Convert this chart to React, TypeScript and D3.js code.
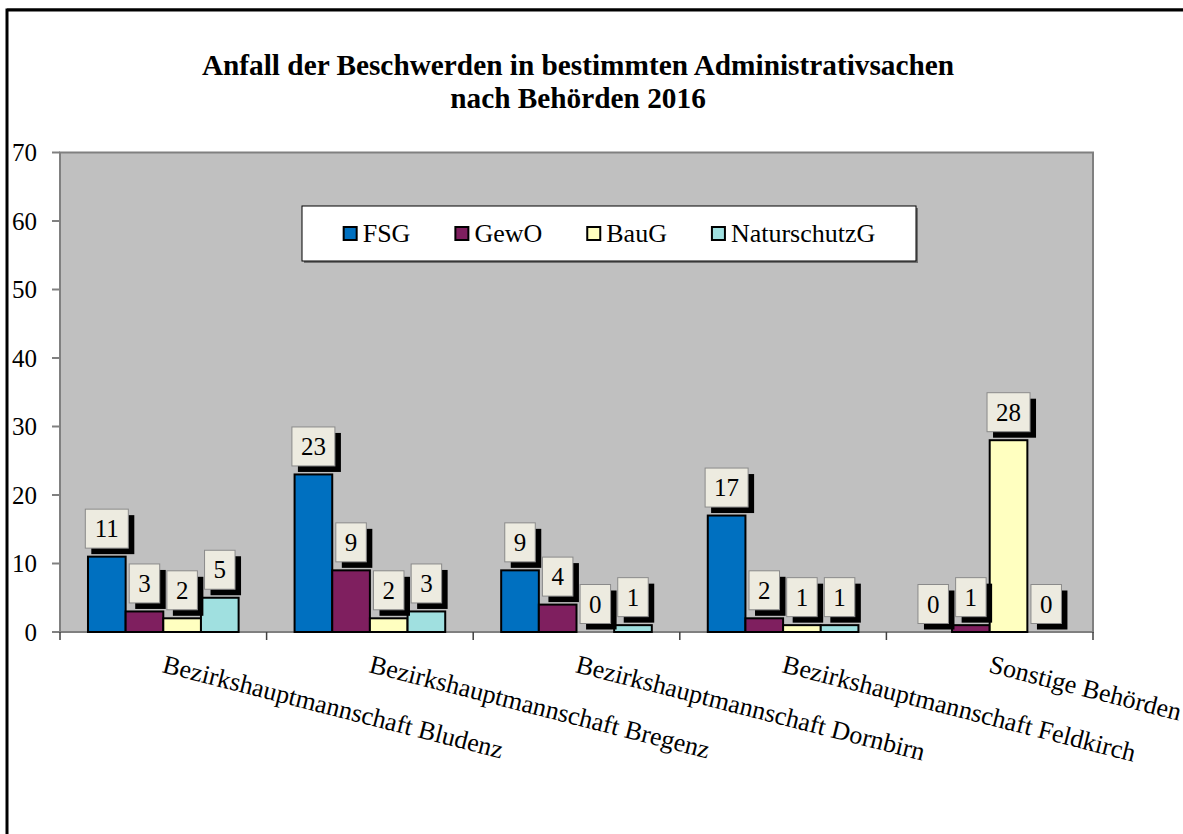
import React, { useEffect, useRef } from 'react';
import * as d3 from 'd3';

const categories = [
  'Bezirkshauptmannschaft Bludenz',
  'Bezirkshauptmannschaft Bregenz',
  'Bezirkshauptmannschaft Dornbirn',
  'Bezirkshauptmannschaft Feldkirch',
  'Sonstige Behörden',
];
const seriesNames = ['FSG', 'GewO', 'BauG', 'NaturschutzG'];
const fsgValues = [11, 23, 9, 17, 0];
const gewoValues = [3, 9, 4, 2, 1];
const baugValues = [2, 2, 0, 1, 28];
const naturValues = [5, 3, 1, 1, 0];
const seriesColors = ['#0070C0', '#7F1F5F', '#FFFFC0', '#A0E0E0'];
const yTicks = [0, 10, 20, 30, 40, 50, 60, 70];
const titleLines = ['Anfall der Beschwerden in bestimmten Administrativsachen', 'nach Behörden 2016'];

const seriesValues = [fsgValues, gewoValues, baugValues, naturValues];
const FONT = '"Liberation Serif", "Times New Roman", serif';

export default function App() {
  const ref = useRef<SVGSVGElement | null>(null);

  useEffect(() => {
    const svg = d3.select(ref.current);
    svg.selectAll('*').remove();

    const W = 1183, H = 834;
    const plot = { left: 60, top: 152.5, right: 1093, bottom: 632 };

    svg.append('rect').attr('width', W).attr('height', H).attr('fill', '#fff');

    // outer chart border (extends past viewport right/bottom)
    svg.append('line').attr('x1', 7).attr('x2', W).attr('y1', 8.5).attr('y2', 8.5)
      .attr('stroke', '#808080').attr('stroke-width', 1);
    svg.append('rect').attr('x', 7).attr('y', 10).attr('width', W + 50).attr('height', H + 50)
      .attr('fill', 'none').attr('stroke', '#000').attr('stroke-width', 3);

    // title
    titleLines.forEach((t, i) => {
      svg.append('text').attr('x', 578).attr('y', 75 + i * 33)
        .attr('text-anchor', 'middle').attr('font-family', FONT)
        .attr('font-weight', 'bold').attr('font-size', 29.3).attr('fill', '#000').text(t);
    });

    const y = d3.scaleLinear().domain([0, 70]).range([plot.bottom, plot.top]);
    const x0 = d3.scaleBand<string>().domain(categories).range([plot.left, plot.right]).paddingInner(0).paddingOuter(0);
    const x1 = d3.scaleBand<string>().domain(seriesNames).range([0, x0.bandwidth()]).paddingInner(0).paddingOuter(0.743);

    // plot area
    svg.append('rect').attr('x', plot.left).attr('y', plot.top)
      .attr('width', plot.right - plot.left).attr('height', plot.bottom - plot.top)
      .attr('fill', '#C0C0C0').attr('stroke', '#808080').attr('stroke-width', 2);

    // y axis ticks + labels
    yTicks.forEach((t) => {
      svg.append('line').attr('x1', 52).attr('x2', plot.left).attr('y1', y(t)).attr('y2', y(t))
        .attr('stroke', '#808080').attr('stroke-width', 2);
      svg.append('text').attr('x', 37).attr('y', y(t) + 8.5).attr('text-anchor', 'end')
        .attr('font-family', FONT).attr('font-size', 25).attr('fill', '#000').text(String(t));
    });

    // x axis
    svg.append('line').attr('x1', plot.left).attr('x2', plot.right).attr('y1', plot.bottom).attr('y2', plot.bottom)
      .attr('stroke', '#808080').attr('stroke-width', 2);
    const boundaries = categories.map((c) => x0(c) as number).concat([plot.right]);
    boundaries.forEach((bx) => {
      svg.append('line').attr('x1', bx).attr('x2', bx).attr('y1', plot.bottom).attr('y2', plot.bottom + 8)
        .attr('stroke', '#404040').attr('stroke-width', 1.5);
    });

    // bars
    categories.forEach((c, ci) => {
      seriesNames.forEach((s, si) => {
        const v = seriesValues[si][ci];
        if (v <= 0) return;
        const bx = (x0(c) as number) + (x1(s) as number);
        svg.append('rect').attr('x', bx).attr('y', y(v)).attr('width', x1.bandwidth())
          .attr('height', y(0) - y(v)).attr('fill', seriesColors[si])
          .attr('stroke', '#000').attr('stroke-width', 2);
      });
    });

    // data labels
    categories.forEach((c, ci) => {
      seriesNames.forEach((s, si) => {
        const v = seriesValues[si][ci];
        const cx = (x0(c) as number) + (x1(s) as number) + x1.bandwidth() / 2;
        const label = String(v);
        const bw = label.length * 12.5 + 18;
        const bh = 39;
        const bottom = y(v) - 8.5;
        const g = svg.append('g');
        g.append('rect').attr('x', cx - bw / 2 + 6).attr('y', bottom - bh + 6)
          .attr('width', bw).attr('height', bh).attr('fill', '#000');
        g.append('rect').attr('x', cx - bw / 2).attr('y', bottom - bh)
          .attr('width', bw).attr('height', bh).attr('fill', '#EDEBE0')
          .attr('stroke', '#8A8A8A').attr('stroke-width', 1);
        g.append('text').attr('x', cx).attr('y', bottom - bh / 2 + 8.5).attr('text-anchor', 'middle')
          .attr('font-family', FONT).attr('font-size', 25).attr('fill', '#000').text(label);
      });
    });

    // category labels (rotated)
    categories.forEach((c) => {
      const cx = (x0(c) as number) + x0.bandwidth() / 2 - 2;
      svg.append('text').attr('transform', `translate(${cx},672) rotate(14.3)`)
        .attr('font-family', FONT).attr('font-size', 26).attr('fill', '#000').text(c);
    });

    // legend
    const lg = { x: 302, y: 206, w: 614, h: 55 };
    svg.append('rect').attr('x', lg.x + 2).attr('y', lg.y + 2).attr('width', lg.w).attr('height', lg.h)
      .attr('fill', '#707070');
    svg.append('rect').attr('x', lg.x).attr('y', lg.y).attr('width', lg.w).attr('height', lg.h)
      .attr('fill', '#fff').attr('stroke', '#000').attr('stroke-width', 1);
    const legendTexts = seriesNames.map((s) =>
      svg.append('text').attr('font-family', FONT).attr('font-size', 26).attr('fill', '#000').text(s)
    );
    const widths = legendTexts.map((t) => (t.node() as SVGTextElement).getComputedTextLength());
    const markerW = 20, gap = 44;
    const total = widths.reduce((a, b) => a + b, 0) + markerW * seriesNames.length + gap * (seriesNames.length - 1);
    let cur = lg.x + (lg.w - total) / 2;
    const midY = lg.y + lg.h / 2;
    seriesNames.forEach((s, i) => {
      svg.append('rect').attr('x', cur + 1).attr('y', midY - 6.5).attr('width', 13).attr('height', 13)
        .attr('fill', seriesColors[i]).attr('stroke', '#000').attr('stroke-width', 2);
      legendTexts[i].attr('x', cur + markerW).attr('y', midY + 8.5);
      cur += markerW + widths[i] + gap;
    });
  }, []);

  return (
    <svg ref={ref} width={1183} height={834}
      style={{ position: 'absolute', left: 0, top: 0, display: 'block' }} />
  );
}
